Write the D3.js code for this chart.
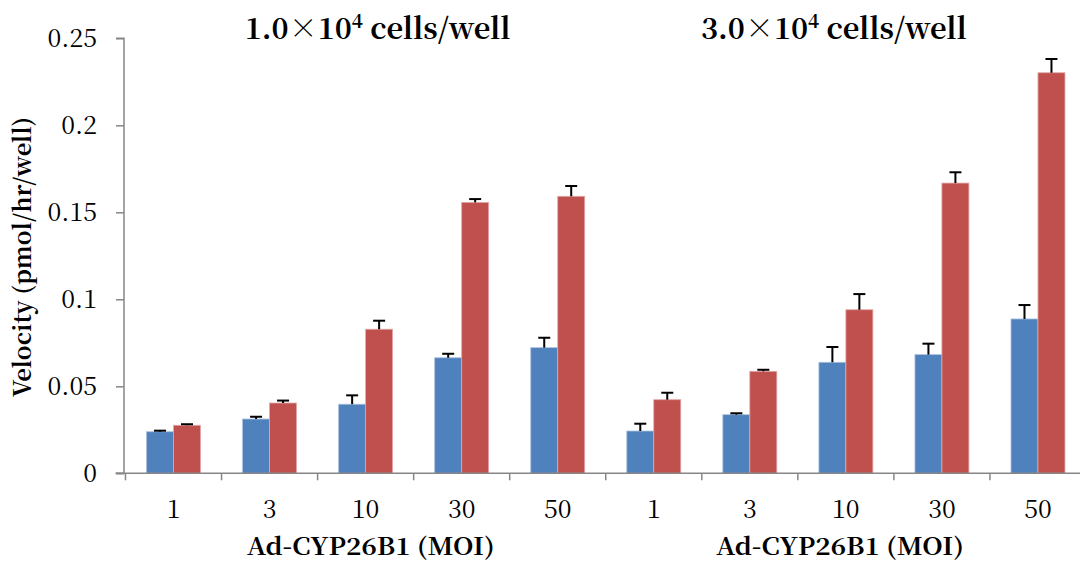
<!DOCTYPE html>
<html>
<head>
<meta charset="utf-8">
<script src="https://cdn.jsdelivr.net/npm/d3@7"></script>
<style>
  html, body { margin: 0; padding: 0; background: #fff; }
  svg { display: block; }
</style>
</head>
<body>
<svg id="chart" width="1080" height="561"></svg>
<script>
// MOI levels shown under each cell-density panel
const moiLevels = ["1", "3", "10", "30", "50"];
const panelTitles = ["1.0", "3.0"];          // mantissa of N × 10^4 cells/well
const axisTitle = "Ad-CYP26B1 (MOI)";
const yLabel = "Velocity (pmol/hr/well)";
const yTicks = [0, 0.05, 0.1, 0.15, 0.2, 0.25];

// 1.0 × 10^4 cells/well
const blueLow = [0.0239, 0.0312, 0.0397, 0.0664, 0.0722];
const redLow  = [0.0276, 0.0404, 0.0828, 0.1557, 0.1592];
const blueLowErr = [0.0006, 0.0013, 0.0051, 0.0023, 0.0057];
const redLowErr  = [0.0006, 0.0014, 0.0049, 0.0019, 0.0059];

// 3.0 × 10^4 cells/well
const blueHigh = [0.0243, 0.0337, 0.0638, 0.0682, 0.0887];
const redHigh  = [0.0423, 0.0586, 0.0940, 0.1668, 0.2302];
const blueHighErr = [0.0042, 0.0008, 0.0088, 0.0063, 0.0080];
const redHighErr  = [0.0040, 0.0009, 0.0090, 0.0062, 0.0079];

const colors = { blue: "#4F81BD", red: "#C0504D" };
const FONT = "'Noto Serif CJK JP', 'DejaVu Serif', serif";

// Flatten into one row per category across both panels
const rows = [];
[[blueLow, redLow, blueLowErr, redLowErr], [blueHigh, redHigh, blueHighErr, redHighErr]]
  .forEach(([b, r, be, re], p) => {
    moiLevels.forEach((m, i) => {
      rows.push({ key: p + "-" + m, label: m, panel: p,
        bars: [{ s: "blue", v: b[i], e: be[i] }, { s: "red", v: r[i], e: re[i] }] });
    });
  });

const svg = d3.select("#chart");
const x0 = 125.5, x1 = 1086, yTop = 38.3, yBot = 473.3;

const x = d3.scaleBand().domain(rows.map(d => d.key)).range([x0, x1]).padding(0);
const xs = d3.scaleBand().domain(["blue", "red"]).range([0, x.step()])
  .paddingInner(0).paddingOuter(0.78);
const y = d3.scaleLinear().domain([0, 0.25]).range([yBot, yTop]);

// Stretch or squeeze a text element to a target width
function fitWidth(sel, w) {
  sel.attr("textLength", w).attr("lengthAdjust", "spacingAndGlyphs");
}

// Bars
const g = svg.append("g");
const cat = g.selectAll("g.cat").data(rows).join("g")
  .attr("class", "cat")
  .attr("transform", d => `translate(${x(d.key)},0)`);

cat.selectAll("rect").data(d => d.bars).join("rect")
  .attr("x", d => xs(d.s))
  .attr("width", xs.bandwidth())
  .attr("y", d => y(d.v))
  .attr("height", d => y(0) - y(d.v))
  .attr("fill", d => colors[d.s])
  .attr("stroke", d => d.s === "blue" ? "#A9C1E0" : "#E0A8A6")
  .attr("stroke-width", 0.8);

// Upper error bars
const eb = cat.selectAll("g.err").data(d => d.bars).join("g").attr("class", "err");
eb.append("line")
  .attr("x1", d => xs(d.s) + xs.bandwidth() / 2)
  .attr("x2", d => xs(d.s) + xs.bandwidth() / 2)
  .attr("y1", d => y(d.v))
  .attr("y2", d => y(d.v + d.e))
  .attr("stroke", "#000").attr("stroke-width", 2);
eb.append("line")
  .attr("x1", d => xs(d.s) + xs.bandwidth() / 2 - 6)
  .attr("x2", d => xs(d.s) + xs.bandwidth() / 2 + 6)
  .attr("y1", d => y(d.v + d.e))
  .attr("y2", d => y(d.v + d.e))
  .attr("stroke", "#000").attr("stroke-width", 2);

// Y axis
const yAxis = svg.append("g")
  .attr("transform", `translate(${x0 - 1.5},0)`)
  .call(d3.axisLeft(y).tickValues(yTicks).tickSize(8).tickPadding(19)
    .tickFormat(d => d === 0 ? "0" : String(+d.toFixed(2))));
yAxis.select(".domain").attr("stroke", "#868686").attr("stroke-width", 1.5)
  .attr("d", `M-8,${yTop}H0V${yBot}H-8`);
yAxis.selectAll(".tick line").attr("stroke", "#868686").attr("stroke-width", 1.5);
yAxis.selectAll(".tick text")
  .style("font-family", FONT).style("font-size", "25px")
  .attr("fill", "#000").attr("dy", "0.33em");

// X axis: ticks between categories
const xAxis = svg.append("g").attr("transform", `translate(0,${yBot})`);
xAxis.append("line").attr("x1", x0 - 10).attr("x2", 1080)
  .attr("stroke", "#868686").attr("stroke-width", 1.5);
const boundaries = rows.map(d => x(d.key));
xAxis.selectAll("line.tk").data(boundaries).join("line").attr("class", "tk")
  .attr("x1", d => d).attr("x2", d => d).attr("y1", 0).attr("y2", 7)
  .attr("stroke", "#868686").attr("stroke-width", 1.5);
xAxis.selectAll("text.lbl").data(rows).join("text").attr("class", "lbl")
  .attr("x", d => x(d.key) + x.bandwidth() / 2)
  .attr("y", 45)
  .attr("text-anchor", "middle")
  .style("font-family", FONT).style("font-size", "25px")
  .text(d => d.label);

// Panel axis titles and headers
const titleShift = [12, -12];
const axisShift = [5, -6];
[0, 1].forEach(p => {
  const first = rows.find(d => d.panel === p);
  const cx = x(first.key) + x.step() * 2.5;
  svg.append("text")
    .attr("x", cx + axisShift[p]).attr("y", 555)
    .attr("text-anchor", "middle")
    .style("font-family", FONT).style("font-size", "24px").style("font-weight", "bold")
    .text(axisTitle)
    .call(fitWidth, 248);
  const t = svg.append("text")
    .attr("x", cx + titleShift[p]).attr("y", 38.5)
    .attr("text-anchor", "middle")
    .style("font-family", FONT).style("font-size", "29px").style("font-weight", "bold");
  t.append("tspan").text(panelTitles[p]);
  t.append("tspan").text("×").style("font-weight", "normal");
  t.append("tspan").text("10");
  t.append("tspan").text("4").attr("dy", -11).style("font-size", "19px");
  t.append("tspan").text(" cells/well").attr("dy", 11);
});

// Y axis title
svg.append("text")
  .attr("transform", `translate(31,257) rotate(-90)`)
  .attr("text-anchor", "middle")
  .style("font-family", FONT).style("font-size", "24px").style("font-weight", "bold")
  .text(yLabel)
  .call(fitWidth, 280);
</script>
</body>
</html>
